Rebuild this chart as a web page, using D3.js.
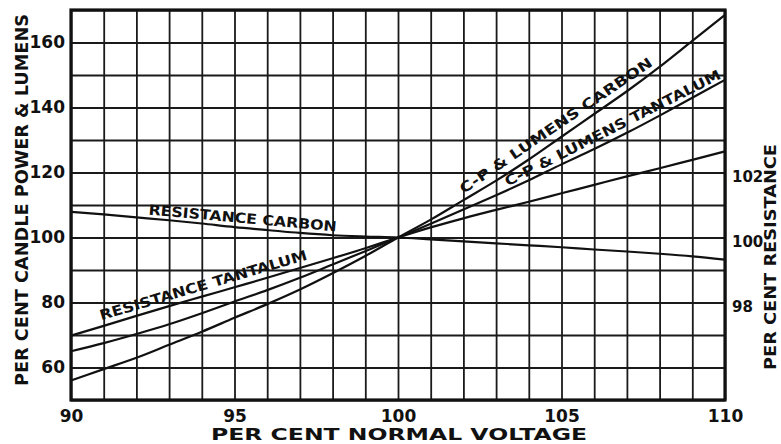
<!DOCTYPE html>
<html>
<head>
<meta charset="utf-8">
<script src="https://cdn.jsdelivr.net/npm/d3@7"></script>
<style>
  body { margin: 0; background: #fff; }
  svg { display: block; }
  text { font-family: "DejaVu Sans", sans-serif; font-weight: bold; fill: #111; }
</style>
</head>
<body>
<div id="chart"></div>
<script>
// Per cent normal voltage (x axis)
const voltage = [90, 91, 92, 93, 94, 95, 96, 97, 98, 99, 100, 101, 102, 103, 104, 105, 106, 107, 108, 109, 110];

// Per cent candle power & lumens (left axis)
const cpCarbon = [56, 59.5, 63, 67, 71, 75.3, 79.5, 84, 89, 94.3, 100, 105.5, 111.5, 117.5, 124, 131, 138, 145, 152.5, 160.5, 168.5];
const cpTantalum = [65, 67.5, 70.3, 73.3, 76.7, 80.3, 83.8, 87.6, 91.7, 95.8, 100, 104.2, 108.6, 113, 117.6, 122.5, 127.2, 132.2, 137.5, 143, 148.5];

// Per cent resistance (right axis)
const resCarbon = [100.79, 100.71, 100.62, 100.53, 100.43, 100.32, 100.23, 100.14, 100.07, 100.03, 100, 99.94, 99.88, 99.82, 99.76, 99.70, 99.63, 99.57, 99.50, 99.42, 99.32];
const resTantalum = [96.98, 97.28, 97.59, 97.89, 98.18, 98.47, 98.76, 99.06, 99.36, 99.67, 100, 100.31, 100.59, 100.85, 101.1, 101.36, 101.62, 101.88, 102.13, 102.39, 102.65];

const xTicks = [90, 95, 100, 105, 110];
const leftTicks = [60, 80, 100, 120, 140, 160];
const rightTicks = [98, 100, 102];

const width = 781, height = 444;
const plotL = 71, plotR = 725, plotT = 10, plotB = 400;

const svg = d3.select("#chart")
    .append("svg")
    .attr("width", width)
    .attr("height", height);

const x = d3.scaleLinear().domain([90, 110]).range([plotL, plotR]);
const y = d3.scaleLinear().domain([50, 170]).range([plotB, plotT]);
const yR = d3.scaleLinear().domain([95, 107]).range([plotB, plotT]);

// Grid
svg.append("g")
    .attr("transform", `translate(0,${plotB})`)
    .call(d3.axisBottom(x).ticks(20).tickSize(-(plotB - plotT)).tickFormat(""))
    .call(g => g.select(".domain").remove())
    .call(g => g.selectAll("line").attr("stroke", "#1a1a1a").attr("stroke-width", 1.8));

svg.append("g")
    .attr("transform", `translate(${plotL},0)`)
    .call(d3.axisLeft(y).ticks(12).tickSize(-(plotR - plotL)).tickFormat(""))
    .call(g => g.select(".domain").remove())
    .call(g => g.selectAll("line").attr("stroke", "#1a1a1a").attr("stroke-width", 1.8));

// Frame
svg.append("rect")
    .attr("x", plotL).attr("y", plotT)
    .attr("width", plotR - plotL).attr("height", plotB - plotT)
    .attr("fill", "none").attr("stroke", "#111").attr("stroke-width", 3.2);

// Tick labels
svg.append("g")
    .attr("transform", `translate(0,${plotB})`)
    .call(d3.axisBottom(x).tickValues(xTicks).tickSize(0).tickPadding(10))
    .call(g => g.select(".domain").remove())
    .call(g => g.selectAll("text").attr("font-size", 17).attr("font-family", null).attr("fill", "#111"));

svg.append("g")
    .attr("transform", `translate(${plotL},0)`)
    .call(d3.axisLeft(y).tickValues(leftTicks).tickSize(0).tickPadding(6))
    .call(g => g.select(".domain").remove())
    .call(g => g.selectAll("text").attr("font-size", 17).attr("font-family", null).attr("fill", "#111"));

svg.append("g")
    .attr("transform", `translate(${plotR},4)`)
    .call(d3.axisRight(yR).tickValues(rightTicks).tickSize(0).tickPadding(7))
    .call(g => g.select(".domain").remove())
    .call(g => g.selectAll("text").attr("font-size", 15).attr("font-family", null).attr("fill", "#111"));

// Axis titles
svg.append("text")
    .attr("x", (plotL + plotR) / 2 + 1)
    .attr("y", 440)
    .attr("text-anchor", "middle")
    .attr("font-size", 15)
    .attr("textLength", 376)
    .attr("lengthAdjust", "spacingAndGlyphs")
    .text("PER CENT NORMAL VOLTAGE");

svg.append("text")
    .attr("transform", "translate(28,200) rotate(-90)")
    .attr("text-anchor", "middle")
    .attr("font-size", 18)
    .attr("textLength", 372)
    .attr("lengthAdjust", "spacingAndGlyphs")
    .text("PER CENT CANDLE POWER & LUMENS");

svg.append("text")
    .attr("transform", "translate(776,257) rotate(-90)")
    .attr("text-anchor", "middle")
    .attr("font-size", 16)
    .attr("textLength", 226)
    .attr("lengthAdjust", "spacingAndGlyphs")
    .text("PER CENT RESISTANCE");

// Curves
const series = [
    { name: "C-P & LUMENS CARBON", values: cpCarbon, scale: y, from: 102.1, to: 107.9, gap: 5 },
    { name: "C-P & LUMENS TANTALUM", values: cpTantalum, scale: y, from: 103.4, to: 109.95, gap: 3 },
    { name: "RESISTANCE CARBON", values: resCarbon, scale: yR, from: 92.35, to: 98.1, gap: 4 },
    { name: "RESISTANCE TANTALUM", values: resTantalum, scale: yR, from: 90.98, to: 97.3, gap: 6 }
];

series.forEach(s => {
    const line = d3.line()
        .x((d, i) => x(voltage[i]))
        .y(d => s.scale(d))
        .curve(d3.curveMonotoneX);

    svg.append("path")
        .datum(s.values)
        .attr("fill", "none")
        .attr("stroke", "#111")
        .attr("stroke-width", 2.2)
        .attr("d", line);

    // label running along the curve
    const along = d3.scaleLinear().domain(voltage).range(s.values);
    const x0 = x(s.from), y0 = s.scale(along(s.from));
    const x1 = x(s.to), y1 = s.scale(along(s.to));
    const a = Math.atan2(y1 - y0, x1 - x0);
    const len = Math.hypot(x1 - x0, y1 - y0);
    const px = x0 + Math.sin(a) * s.gap, py = y0 - Math.cos(a) * s.gap;

    svg.append("text")
        .attr("transform", `translate(${px},${py}) rotate(${a * 180 / Math.PI})`)
        .attr("font-size", 14)
        .attr("textLength", len)
        .attr("lengthAdjust", "spacingAndGlyphs")
        .text(s.name);
});
</script>
</body>
</html>
